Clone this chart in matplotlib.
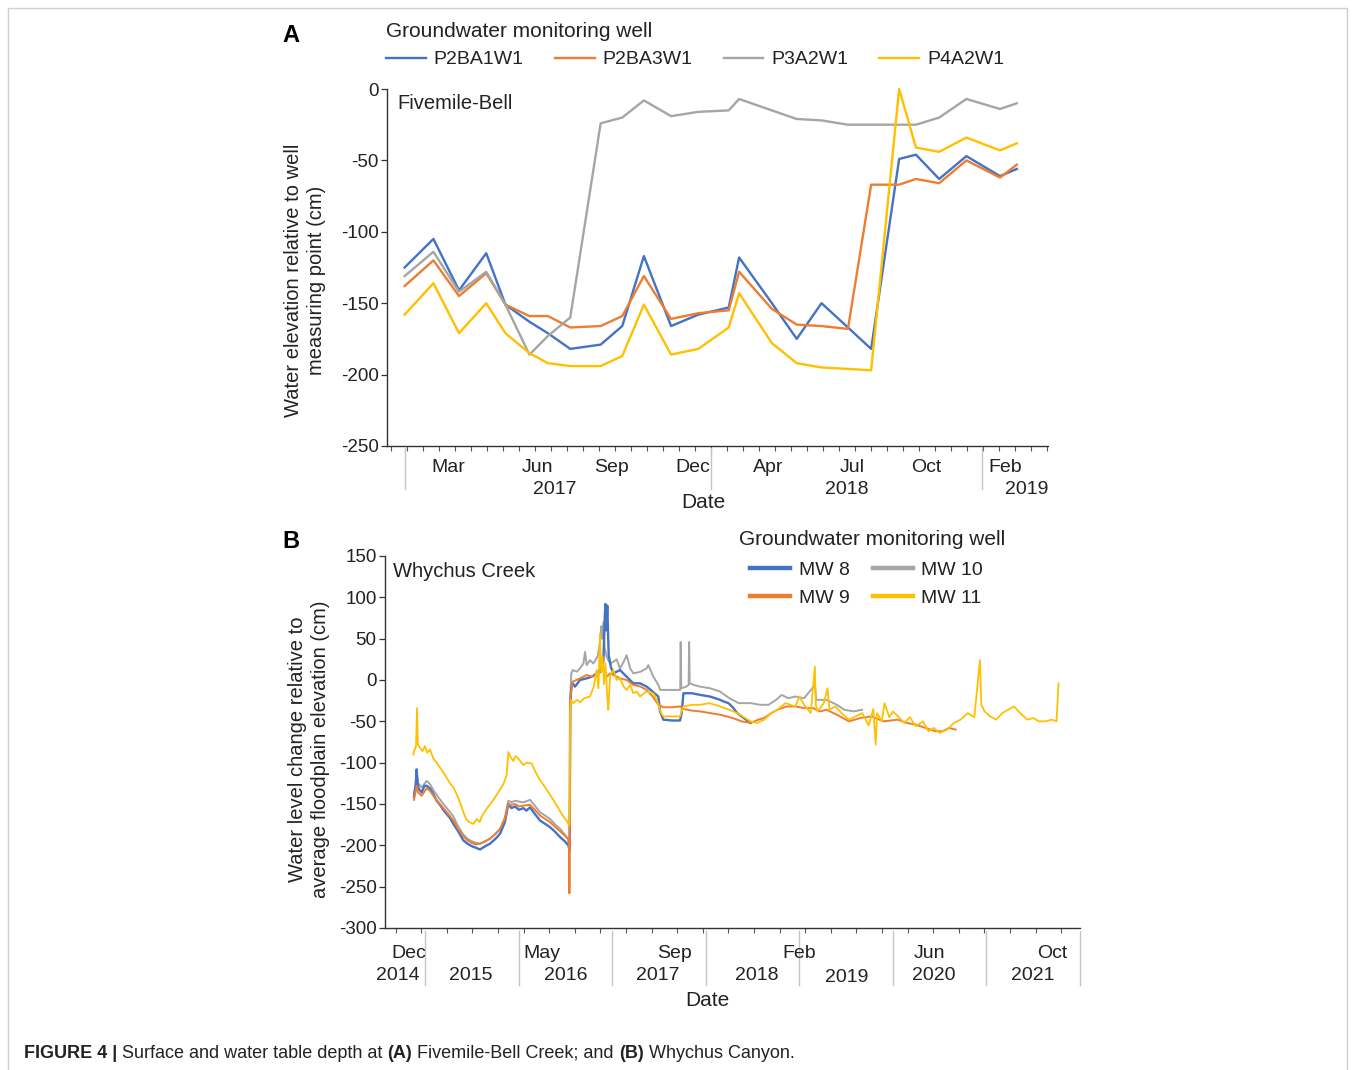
"""
Groundwater depth at Fivemile-Bell (panel A, monthly well readings) and
Whychus Creek (panel B, continuous logger records), JMP-style date axes.
"""
import matplotlib
matplotlib.use("Agg")
import matplotlib.pyplot as plt
import matplotlib.dates as mdates
from matplotlib.patches import Rectangle
import numpy as np
import pandas as pd

W, H, DPI = 1355, 1070, 100

BLUE = "#4472C4"
ORANGE = "#ED7D31"
GRAY = "#A5A5A5"
YELLOW = "#FFC000"
SEP_COLOR = "#c4c4c4"

plt.rcParams["font.family"] = ["Liberation Sans", "DejaVu Sans"]
plt.rcParams["axes.unicode_minus"] = False

# ---- panel A: Fivemile-Bell, monthly readings (cm)
DATES_A = ["2017-01-09", "2017-02-14", "2017-03-18", "2017-04-21", "2017-05-15",
           "2017-06-14", "2017-07-07", "2017-08-04", "2017-09-11", "2017-10-08",
           "2017-11-04", "2017-12-08", "2018-01-11", "2018-02-18", "2018-03-03",
           "2018-04-13", "2018-05-14", "2018-06-14", "2018-07-17", "2018-08-15",
           "2018-09-19", "2018-10-10", "2018-11-08", "2018-12-12", "2019-01-23",
           "2019-02-13"]
P2BA1W1 = [-125, -105, -141, -115, -151, -163, -171, -182, -179, -166, -117, -166, -158,
           -153, -118, -150, -175, -150, -167, -182, -49, -46, -63, -47, -61, -56]
P2BA3W1 = [-138, -120, -145, -129, -151, -159, -159, -167, -166, -159, -131, -161, -157,
           -155, -128, -154, -165, -166, -168, -67, -67, -63, -66, -50, -62, -53]
P3A2W1 = [-131, -114, -142, -128, -151, -186, -173, -160, -24, -20, -8, -19, -16,
          -15, -7, -15, -21, -22, -25, -25, -25, -25, -20, -7, -14, -10]
P4A2W1 = [-158, -136, -171, -150, -171, -185, -192, -194, -194, -187, -151, -186, -182,
          -167, -143, -178, -192, -195, -196, -197, 0, -41, -44, -34, -43, -38]
WELLS_A = ["P2BA1W1", "P2BA3W1", "P3A2W1", "P4A2W1"]

MONTH_LABELS_A = ["Mar", "Jun", "Sep", "Dec", "Apr", "Jul", "Oct", "Feb"]
MONTH_DATES_A = ["2017-03-04", "2017-06-24", "2017-09-25", "2018-01-04",
                 "2018-04-08", "2018-07-22", "2018-10-23", "2019-01-29"]
YEAR_LABELS_A = ["2017", "2018", "2019"]
YEAR_DATES_A = ["2017-07-15", "2018-07-15", "2019-02-25"]
SEP_DATES_A = ["2017-01-10", "2018-01-27", "2019-01-01"]

# ---- panel B: Whychus Creek, logger records (decimal year, cm)
MW8_YEAR = [2014.878, 2014.895, 2014.907, 2014.915, 2014.930, 2014.960, 2014.990, 2015.013,
            2015.049, 2015.085, 2015.120, 2015.156, 2015.192, 2015.263, 2015.299, 2015.350,
            2015.406, 2015.450, 2015.495, 2015.540, 2015.584, 2015.640, 2015.691, 2015.750,
            2015.798, 2015.850, 2015.887, 2015.920, 2015.958, 2016.000, 2016.047, 2016.080,
            2016.119, 2016.170, 2016.226, 2016.280, 2016.333, 2016.390, 2016.440, 2016.490,
            2016.529, 2016.543, 2016.548, 2016.560, 2016.575, 2016.600, 2016.653, 2016.725,
            2016.780, 2016.832, 2016.880, 2016.903, 2016.918, 2016.925, 2016.935, 2016.945,
            2016.960, 2016.985, 2017.010, 2017.045, 2017.081, 2017.152, 2017.224, 2017.295,
            2017.366, 2017.430, 2017.491, 2017.509, 2017.545, 2017.640, 2017.723, 2017.741,
            2017.759, 2017.850, 2017.937, 2018.044, 2018.151, 2018.191, 2018.240, 2018.287,
            2018.334, 2018.380, 2018.430, 2018.478]
MW8_CM = [-141, -128, -108, -125, -132, -136, -128, -128,
          -131, -138, -146, -151, -157, -167, -174, -183,
          -194, -198, -201, -203, -205, -201, -198, -192,
          -186, -172, -150, -155, -153, -157, -155, -158,
          -154, -162, -170, -174, -178, -184, -190, -195,
          -200, -206, -30, -10, -4, -8, 0, 2,
          4, 8, 14, 22, 75, 92, 60, 90,
          30, 15, 8, 10, 12, 4, -4, -4,
          -8, -14, -20, -38, -48, -49, -49, -40,
          -16, -16, -18, -20, -24, -26, -28, -33,
          -40, -44, -48, -52]

MW9_YEAR = [2014.878, 2014.907, 2014.920, 2014.960, 2015.013, 2015.049, 2015.085, 2015.140,
            2015.192, 2015.250, 2015.299, 2015.350, 2015.406, 2015.450, 2015.495, 2015.540,
            2015.584, 2015.640, 2015.691, 2015.750, 2015.798, 2015.850, 2015.887, 2015.920,
            2015.958, 2016.000, 2016.047, 2016.119, 2016.170, 2016.226, 2016.280, 2016.333,
            2016.390, 2016.440, 2016.490, 2016.529, 2016.536, 2016.540, 2016.544, 2016.550,
            2016.575, 2016.653, 2016.725, 2016.780, 2016.832, 2016.880, 2016.903, 2016.939,
            2016.975, 2017.010, 2017.081, 2017.152, 2017.224, 2017.300, 2017.366, 2017.430,
            2017.491, 2017.545, 2017.640, 2017.723, 2017.759, 2017.850, 2017.937, 2018.044,
            2018.151, 2018.287, 2018.380, 2018.478, 2018.560, 2018.620, 2018.700, 2018.764,
            2018.860, 2018.955, 2019.050, 2019.146, 2019.220, 2019.290, 2019.400, 2019.530,
            2019.650, 2019.770, 2019.900, 2020.050, 2020.150, 2020.240, 2020.350, 2020.450,
            2020.530, 2020.600, 2020.670]
MW9_CM = [-145, -128, -136, -140, -131, -134, -140, -148,
          -155, -163, -170, -180, -189, -194, -197, -199,
          -198, -195, -192, -186, -180, -168, -150, -151,
          -150, -153, -152, -151, -157, -164, -168, -172,
          -178, -183, -188, -193, -200, -258, -200, -20,
          -2, 2, 6, 4, 6, 10, 14, 4,
          8, 6, 2, 0, -6, -8, -12, -20,
          -30, -33, -33, -32, -35, -37, -38, -40,
          -42, -46, -50, -52, -48, -46, -40, -36,
          -32, -32, -34, -34, -38, -36, -42, -50,
          -46, -44, -50, -48, -52, -54, -58, -62,
          -62, -58, -60]

MW10_YEAR = [2014.878, 2014.900, 2014.910, 2014.925, 2014.960, 2015.013, 2015.049, 2015.085,
             2015.140, 2015.192, 2015.250, 2015.299, 2015.350, 2015.406, 2015.450, 2015.495,
             2015.540, 2015.584, 2015.640, 2015.691, 2015.750, 2015.798, 2015.850, 2015.887,
             2015.920, 2015.958, 2016.000, 2016.047, 2016.119, 2016.170, 2016.226, 2016.280,
             2016.333, 2016.390, 2016.440, 2016.490, 2016.529, 2016.543, 2016.550, 2016.560,
             2016.575, 2016.620, 2016.653, 2016.690, 2016.707, 2016.725, 2016.760, 2016.796,
             2016.840, 2016.867, 2016.880, 2016.890, 2016.903, 2016.915, 2016.939, 2016.974,
             2017.010, 2017.045, 2017.081, 2017.120, 2017.152, 2017.190, 2017.224, 2017.300,
             2017.366, 2017.384, 2017.438, 2017.491, 2017.509, 2017.600, 2017.700, 2017.725,
             2017.730, 2017.736, 2017.790, 2017.815, 2017.820, 2017.826, 2017.870, 2017.937,
             2018.044, 2018.151, 2018.250, 2018.350, 2018.478, 2018.580, 2018.670, 2018.750,
             2018.810, 2018.880, 2018.955, 2019.050, 2019.165, 2019.180, 2019.290, 2019.400,
             2019.480, 2019.580, 2019.670]
MW10_CM = [-137, -124, -114, -125, -130, -122, -126, -133,
           -142, -150, -158, -165, -177, -187, -192, -195,
           -197, -198, -195, -192, -186, -181, -166, -146,
           -148, -146, -147, -148, -145, -152, -160, -164,
           -168, -175, -180, -187, -193, -205, -20, 8,
           12, 10, 14, 20, 34, 18, 24, 20,
           28, 45, 65, 50, 70, 40, 28, 20,
           22, 25, 14, 22, 30, 14, 8, 10,
           14, 18, 4, -6, -12, -12, -12, -12,
           46, -10, -8, -6, 46, -4, -6, -8,
           -10, -14, -22, -28, -28, -30, -30, -24,
           -18, -22, -20, -22, -6, -24, -24, -30,
           -36, -38, -36]

MW11_YEAR = [2014.871, 2014.878, 2014.900, 2014.910, 2014.920, 2014.942, 2014.970, 2014.996,
             2015.020, 2015.049, 2015.085, 2015.120, 2015.156, 2015.210, 2015.263, 2015.300,
             2015.334, 2015.370, 2015.406, 2015.441, 2015.470, 2015.513, 2015.550, 2015.580,
             2015.602, 2015.660, 2015.727, 2015.790, 2015.834, 2015.869, 2015.887, 2015.910,
             2015.940, 2015.965, 2015.994, 2016.047, 2016.080, 2016.137, 2016.180, 2016.226,
             2016.300, 2016.368, 2016.420, 2016.475, 2016.510, 2016.540, 2016.548, 2016.556,
             2016.582, 2016.620, 2016.653, 2016.700, 2016.760, 2016.800, 2016.832, 2016.850,
             2016.867, 2016.880, 2016.895, 2016.910, 2016.925, 2016.945, 2016.956, 2016.975,
             2017.010, 2017.045, 2017.081, 2017.120, 2017.152, 2017.190, 2017.224, 2017.260,
             2017.295, 2017.360, 2017.438, 2017.480, 2017.520, 2017.545, 2017.723, 2017.759,
             2017.850, 2017.937, 2018.040, 2018.151, 2018.250, 2018.334, 2018.420, 2018.478,
             2018.550, 2018.621, 2018.700, 2018.764, 2018.850, 2018.955, 2019.000, 2019.050,
             2019.120, 2019.165, 2019.175, 2019.194, 2019.260, 2019.300, 2019.320, 2019.385,
             2019.450, 2019.528, 2019.600, 2019.672, 2019.740, 2019.790, 2019.815, 2019.830,
             2019.880, 2019.910, 2019.960, 2020.000, 2020.054, 2020.120, 2020.180, 2020.245,
             2020.320, 2020.380, 2020.436, 2020.500, 2020.579, 2020.650, 2020.722, 2020.800,
             2020.870, 2020.930, 2020.945, 2020.980, 2021.040, 2021.104, 2021.170, 2021.230,
             2021.295, 2021.360, 2021.438, 2021.500, 2021.560, 2021.629, 2021.700, 2021.749,
             2021.770]
MW11_CM = [-90, -86, -80, -34, -78, -82, -86, -80,
           -88, -84, -95, -100, -106, -115, -125, -130,
           -138, -148, -160, -169, -172, -174, -168, -172,
           -165, -155, -145, -134, -126, -115, -87, -93,
           -98, -92, -95, -103, -100, -101, -112, -121,
           -133, -145, -155, -165, -170, -176, -35, -24,
           -28, -24, -27, -22, -20, -8, 12, -10,
           56, 10, 28, -5, 20, -20, -36, 5,
           12, 0, 2, -8, -12, -6, -16, -14,
           -20, -14, -16, -26, -40, -44, -44, -32,
           -30, -30, -28, -32, -36, -40, -46, -50,
           -52, -48, -40, -36, -28, -32, -20, -30,
           -40, 16, -30, -38, -28, -10, -36, -32,
           -40, -48, -44, -40, -55, -35, -78, -40,
           -50, -28, -45, -38, -44, -52, -45, -56,
           -50, -62, -58, -64, -60, -52, -48, -40,
           -45, 24, -30, -38, -44, -48, -40, -36,
           -32, -40, -48, -46, -50, -50, -48, -50,
           -4]

MONTH_LABELS_B = ["Dec", "May", "Sep", "Feb", "Jun", "Oct"]
MONTH_POS_B = [2014.82, 2016.25, 2017.66, 2018.995, 2020.395, 2021.705]
YEAR_LABELS_B = ["2014", "2015", "2016", "2017", "2018", "2019", "2020", "2021"]
YEAR_POS_B = [2014.70, 2015.485, 2016.50, 2017.49, 2018.545, 2019.51, 2020.44, 2021.50]


def under_axis(ax, x, text, dy_px, size=14):
    # text centred dy_px pixels below the x axis line
    ax_h = ax.get_position().height * H
    ax.text(x, -dy_px / ax_h, text, transform=ax.get_xaxis_transform(),
            ha="center", va="center", fontsize=size, color="#222222", clip_on=False)


def separator(ax, x, top_px, bottom_px):
    ax_h = ax.get_position().height * H
    ax.plot([x, x], [-top_px / ax_h, -bottom_px / ax_h], transform=ax.get_xaxis_transform(),
            color=SEP_COLOR, lw=1.0, clip_on=False)


def style_axes(ax):
    for side in ("top", "right"):
        ax.spines[side].set_visible(False)
    for side in ("left", "bottom"):
        ax.spines[side].set_color("#333333")
        ax.spines[side].set_linewidth(1.0)
    ax.tick_params(axis="y", direction="out", length=4, width=0.9, pad=2,
                   labelsize=13.5, colors="#333333", labelcolor="#222222")
    ax.tick_params(axis="x", direction="out", length=3.5, width=0.8,
                   labelbottom=False, colors="#555555")


fig = plt.figure(figsize=(W / DPI, H / DPI), dpi=DPI)

# ---------------- panel A
axA = fig.add_axes([387 / W, 1 - 446 / H, (1048 - 387) / W, (446 - 89) / H])
dates_a = pd.to_datetime(DATES_A)
handles_a = []
for name, vals, color in zip(WELLS_A, [P2BA1W1, P2BA3W1, P3A2W1, P4A2W1],
                             [BLUE, ORANGE, GRAY, YELLOW]):
    (ln,) = axA.plot(dates_a, vals, color=color, lw=1.7, label=name, clip_on=False)
    handles_a.append(ln)

axA.set_xlim(pd.Timestamp("2016-12-18"), pd.Timestamp("2019-03-24"))
axA.set_ylim(-250, 0)
axA.set_yticks(np.arange(-250, 1, 50))
style_axes(axA)
axA.set_xticks(pd.date_range("2016-12-23", "2019-03-24", freq="20D"))

for d, lab in zip(MONTH_DATES_A, MONTH_LABELS_A):
    under_axis(axA, mdates.date2num(pd.Timestamp(d)), lab, 22)
for d, lab in zip(YEAR_DATES_A, YEAR_LABELS_A):
    under_axis(axA, mdates.date2num(pd.Timestamp(d)), lab, 44)
for d in SEP_DATES_A:
    separator(axA, mdates.date2num(pd.Timestamp(d)), 2, 43)

axA.text(0.016, 0.958, "Fivemile-Bell", transform=axA.transAxes, fontsize=14.5,
         ha="left", va="center", color="#222222")

fig.text(703 / W, 1 - 502 / H, "Date", ha="center", va="center", fontsize=15, color="#222222")
fig.text(305 / W, 1 - 280 / H, "Water elevation relative to well\nmeasuring point (cm)",
         rotation=90, ha="center", va="center", fontsize=14.5, linespacing=1.3,
         multialignment="center", color="#222222")

legA = fig.legend(handles_a, WELLS_A, title="Groundwater monitoring well",
                  loc="upper left", bbox_to_anchor=(386 / W, 1 - 22 / H), ncol=4,
                  frameon=False, alignment="left", fontsize=14, title_fontsize=15,
                  handlelength=2.05, handletextpad=0.4, columnspacing=1.6,
                  borderpad=0, borderaxespad=0)
for t in legA.get_texts():
    t.set_color("#222222")
legA.get_title().set_color("#222222")

# ---------------- panel B
axB = fig.add_axes([385 / W, 1 - 928 / H, (1080 - 385) / W, (928 - 556) / H])
series_b = [("MW 10", MW10_YEAR, MW10_CM, GRAY, 1.4),
            ("MW 8", MW8_YEAR, MW8_CM, BLUE, 1.7),
            ("MW 9", MW9_YEAR, MW9_CM, ORANGE, 1.4),
            ("MW 11", MW11_YEAR, MW11_CM, YELLOW, 1.3)]
for name, xs, ys, color, lw in series_b:
    axB.plot(xs, ys, color=color, lw=lw)

axB.set_xlim(2014.568, 2022.0)
axB.set_ylim(-300, 150)
axB.set_yticks(np.arange(-300, 151, 50))
style_axes(axB)
axB.set_xticks(np.arange(2014.681, 2022.0, 100 / 365.25))

for x, lab in zip(MONTH_POS_B, MONTH_LABELS_B):
    under_axis(axB, x, lab, 25)
for x, lab in zip(YEAR_POS_B, YEAR_LABELS_B):
    under_axis(axB, x, lab, 50 if lab == "2019" else 47)
for yr in range(2015, 2023):
    separator(axB, yr, 3, 57)

axB.text(0.012, 0.957, "Whychus Creek", transform=axB.transAxes, fontsize=14.5,
         ha="left", va="center", color="#222222")

fig.text(707 / W, 1 - 1000 / H, "Date", ha="center", va="center", fontsize=15, color="#222222")
fig.text(309 / W, 1 - 749 / H, "Water level change relative to\naverage floodplain elevation (cm)",
         rotation=90, ha="center", va="center", fontsize=14.5, linespacing=1.3,
         multialignment="center", color="#222222")

fig.text(739 / W, 1 - 540 / H, "Groundwater monitoring well", ha="left", va="center",
         fontsize=15, color="#222222")
legend_b = [plt.Line2D([], [], color=c, lw=3.2) for c in (BLUE, ORANGE, GRAY, YELLOW)]
legB = fig.legend(legend_b, ["MW 8", "MW 9", "MW 10", "MW 11"], loc="upper left",
                  bbox_to_anchor=(750 / W, 1 - 561 / H), ncol=2, frameon=False,
                  fontsize=14, handlelength=2.05, handletextpad=0.45, columnspacing=1.2,
                  labelspacing=0.55, borderpad=0, borderaxespad=0)
for t in legB.get_texts():
    t.set_color("#222222")

# ---------------- panel letters, frame, caption
fig.text(282 / W, 1 - 35 / H, "A", fontsize=17, fontweight="bold", va="center", ha="left")
fig.text(282 / W, 1 - 542 / H, "B", fontsize=17, fontweight="bold", va="center", ha="left")

fig.patches.append(Rectangle((8 / W, -0.05), (1347 - 8) / W, 1.05 - 8 / H,
                             transform=fig.transFigure, fill=False,
                             edgecolor="#cfcfcf", lw=1.0))

caption = [("FIGURE 4 | ", True), ("Surface and water table depth at ", False), ("(A)", True),
           (" Fivemile-Bell Creek; and ", False), ("(B)", True), (" Whychus Canyon.", False)]
renderer = fig.canvas.get_renderer()
x = 24 / W
for piece, bold in caption:
    t = fig.text(x, 1 - 1053 / H, piece, fontsize=13, va="center", ha="left",
                 fontweight="bold" if bold else "normal",
                 family=["Liberation Sans Narrow", "Liberation Sans"], color="#222222")
    x += t.get_window_extent(renderer).width / W

fig.savefig("out.png", dpi=DPI)
